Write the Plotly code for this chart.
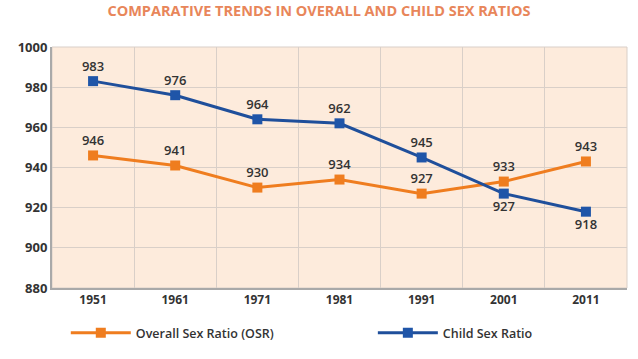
import plotly.graph_objects as go

years = ["1951", "1961", "1971", "1981", "1991", "2001", "2011"]
osr = [946, 941, 930, 934, 927, 933, 943]
csr = [983, 976, 964, 962, 945, 927, 918]
osr_pos = ["top center"] * 7
csr_pos = ["top center"] * 5 + ["bottom center", "bottom center"]
yticks = [880, 900, 920, 940, 960, 980, 1000]

x = list(range(len(years)))
FONT = "Open Sans, Lato, sans-serif"
lbl_font = dict(family=FONT, size=13, color="#333333", weight=600)
leg_font = dict(family=FONT, size=12.5, color="#333333", weight=600)

fig = go.Figure()
fig.add_trace(go.Scatter(
    x=x, y=osr, name="Overall Sex Ratio (OSR)", mode="lines+markers+text",
    text=[str(v) for v in osr], textposition=osr_pos,
    line=dict(color="#ef7d1f", width=3),
    marker=dict(symbol="square", size=10, color="#ef7d1f"),
    textfont=lbl_font, cliponaxis=False, legend="legend"))
fig.add_trace(go.Scatter(
    x=x, y=csr, name="Child Sex Ratio", mode="lines+markers+text",
    text=[str(v) for v in csr], textposition=csr_pos,
    line=dict(color="#1f4f9b", width=3),
    marker=dict(symbol="square", size=10, color="#1f55a8"),
    textfont=lbl_font, cliponaxis=False, legend="legend2"))

fig.update_layout(
    width=638, height=359,
    margin=dict(l=52, r=11, t=47, b=71, autoexpand=False),
    paper_bgcolor="white", plot_bgcolor="#fdebdc",
    font=dict(family=FONT, color="#333333"),
    title=dict(text="<b>COMPARATIVE TRENDS IN OVERALL AND CHILD SEX RATIOS</b>",
               x=0.5, xanchor="center", y=0.97, yanchor="middle",
               font=dict(family=FONT, size=14.5, color="#e8865a")),
    showlegend=True,
    legend=dict(orientation="h", x=0.024, y=-0.187, yanchor="middle", xanchor="left",
                font=leg_font, itemwidth=60, bgcolor="rgba(0,0,0,0)"),
    legend2=dict(orientation="h", x=0.558, y=-0.187, yanchor="middle", xanchor="left",
                 font=leg_font, itemwidth=60, bgcolor="rgba(0,0,0,0)"),
)
fig.update_xaxes(
    range=[-0.5, 6.5], tickvals=x, ticktext=["<b>%s</b>" % y for y in years],
    tickfont=dict(size=12, color="#333333"), showgrid=False, zeroline=False,
    showline=True, linecolor="#a9a9a9", linewidth=2, ticks="", ticklen=0,
    minor=dict(tick0=-0.5, dtick=1, showgrid=True, gridcolor="#d9cfc8", gridwidth=1),
    mirror=False)
fig.update_yaxes(
    range=[880, 1000], tickvals=yticks, ticktext=["<b>%d</b>" % v for v in yticks],
    tickfont=dict(size=13, color="#333333"), showgrid=True, gridcolor="#d9cfc8",
    zeroline=False, showline=True, linecolor="#a9a9a9", linewidth=2, ticks="")
fig.add_shape(type="rect", xref="paper", yref="paper", x0=0, x1=1, y0=0, y1=1,
              line=dict(color="#d9cfc8", width=1), layer="below")

fig.write_html("out.html", config={"displayModeBar": False},
               post_script="document.body.style.margin='0';")
